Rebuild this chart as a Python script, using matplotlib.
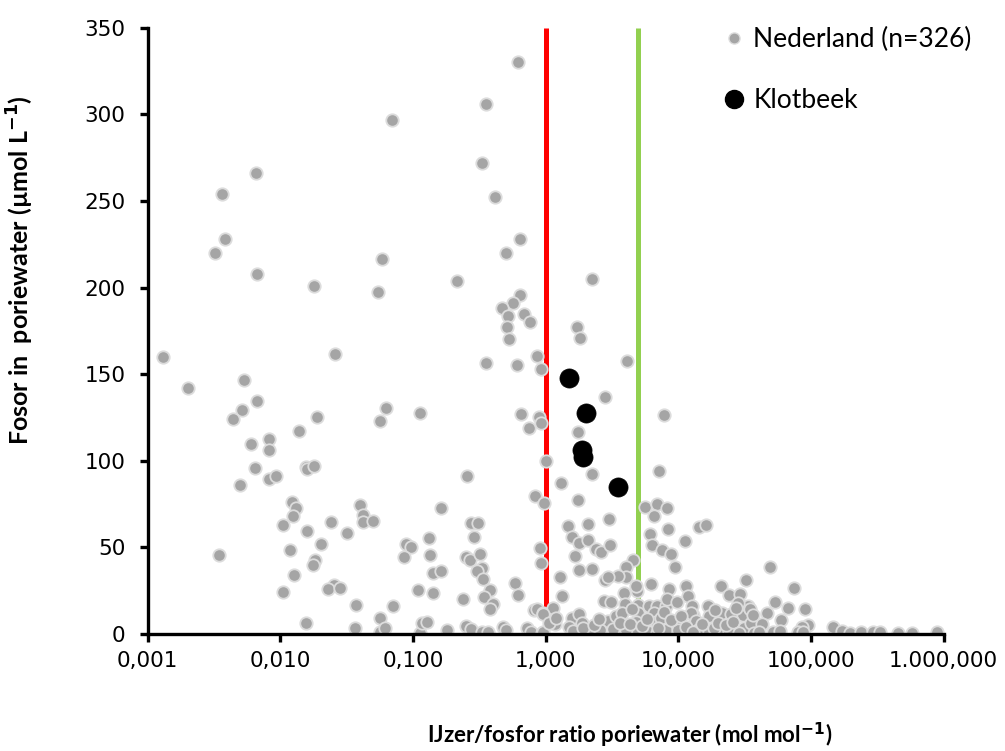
import numpy as np
import matplotlib.pyplot as plt
from matplotlib.lines import Line2D
from matplotlib.ticker import FixedLocator, FuncFormatter

# Nederland (n=326): Fe/P ratio (mol/mol) and P in porewater (umol/L)
ned_x = [0.0066, 0.0036, 0.00385, 0.0032, 0.0067, 0.0178,
         0.614, 0.356, 0.0698, 0.329, 0.412, 0.64, 0.499, 0.0584, 0.213, 0.0543, 0.635, 0.57,
         0.468, 0.519, 0.686, 0.766, 0.513,
         2.24, 1.73,
         0.00131, 0.0020, 0.0256, 0.0053, 0.0067, 0.0051, 0.00439, 0.0189, 0.0139, 0.0082,
         0.0060, 0.00826, 0.00643, 0.0155, 0.016, 0.0179, 0.00826, 0.00927, 0.00495, 0.01225,
         0.0132, 0.01245, 0.0105, 0.024, 0.0315, 0.016, 0.0201, 0.0119, 0.00346, 0.0182,
         0.0177, 0.0126, 0.0254, 0.0229, 0.0282, 0.0105, 0.0157,
         0.533, 0.356, 0.612, 0.857, 0.92, 0.0621, 0.0562, 0.112, 0.653, 0.883, 0.914, 0.75,
         1.0, 0.255, 0.828, 0.964, 0.0395, 0.0419, 0.0418, 0.0496, 0.163, 0.273, 0.309, 0.287,
         0.0885, 0.097, 0.086, 0.133, 0.134, 0.25, 0.27, 0.321, 0.904, 0.925, 0.142, 0.163,
         0.33, 0.305, 0.337, 0.589, 0.617, 0.109, 0.141, 0.379, 0.345, 0.399, 0.381, 0.24,
         0.0372, 0.0705, 0.0562, 0.815, 0.863, 0.946, 0.0368, 0.0564, 0.0618, 0.1135, 0.117,
         0.127, 0.18, 0.25, 0.275, 0.332, 0.368, 0.48, 0.504, 0.72, 0.77, 0.93,
         1.80, 4.07, 2.78, 7.8, 1.75, 2.24, 1.31, 1.75, 7.2, 5.6, 6.9, 8.2, 6.5, 8.4, 14.2,
         16.2, 11.3, 1.47, 2.1, 3.0, 1.57, 1.78, 2.08, 2.41, 2.59, 3.03, 6.07, 6.3, 7.5, 8.8,
         1.65, 1.77, 2.22, 9.5, 4.56, 4.06, 4.04, 3.52, 2.78, 2.96, 1.28, 6.2, 8.5, 11.4, 11.9,
         21, 24, 29, 32.4, 1.32, 3.9, 4.87, 4.83, 2.73, 3.13, 3.93, 4.95, 6.04, 6.86, 8.07,
         8.26, 9.7, 12.6, 16.6, 12.8, 1.13, 0.96, 1.57, 1.77, 1.87, 2.68, 2.96, 3.38, 3.75,
         4.98, 4.83, 6.5, 6.8, 7.4, 9.5, 12.4, 13.6, 17.1, 21.4, 24.9, 30.5, 33.2,
         0.95, 1.17, 1.5, 1.85, 2.13, 2.58, 3.54, 4.05, 4.98, 6.04, 6.86, 8.07, 9.9, 14, 16.9,
         21, 24, 29.3,
         1.05, 1.2, 1.6, 1.9, 2.3, 2.5, 3.2, 3.6, 4.3, 4.5, 5.3, 5.8, 7.0, 7.8, 8.8, 10.5,
         11.5, 13.0, 15.0, 18.5, 20.0, 23.0, 26.0, 28.0, 31.0, 35.0, 27.0, 19.0,
         49, 74.8, 34.8, 36.3, 53.7, 66.8, 90.8, 46.8, 59.3, 42.5, 94.6, 85.2, 28.5, 37.3,
         40.5, 51.9, 58, 80, 87.3, 147, 170, 197, 238, 292, 331, 455, 573, 885]
ned_y = [266, 254, 228, 220, 208, 201,
         330, 306, 297, 272, 252, 228, 220, 216.5, 204, 197.5, 195.7, 191.3,
         188.2, 183.8, 184.7, 180.1, 177.2,
         205.2, 177.2,
         160, 142, 161.6, 146.7, 134.3, 129.4, 123.9, 125, 117.3, 112.7,
         109.5, 106.4, 96, 96.4, 95.2, 97.1, 89.6, 91.3, 86.2, 76,
         72.9, 68.1, 62.9, 64.8, 58.5, 59.6, 52.1, 48.5, 45.8, 42.7,
         39.8, 34.2, 28.1, 25.8, 26.4, 24.1, 6.2,
         170.2, 156.6, 155.2, 160.4, 152.9, 130.2, 122.7, 127.3, 127.1, 125.4, 121.6, 118.7,
         99.8, 91.3, 79.8, 75.4, 74.4, 68.8, 64.8, 65.2, 72.9, 63.9, 63.9, 56.2,
         51.9, 50, 44.6, 55.2, 45.4, 44.4, 42.7, 46.2, 49.6, 40.8, 35, 36.5,
         37.9, 36.4, 31.7, 29.4, 22.3, 25.4, 23.8, 25.2, 21.2, 17.1, 14.3, 20,
         16.6, 16.2, 9.1, 14, 14.6, 11.9, 3.6, 1.3, 3.1, 0.4, 6.2,
         6.9, 2.3, 4.6, 2.9, 1.0, 1.0, 3.9, 2.3, 3.3, 1.3, 0.4,
         171, 157.7, 136.9, 126.4, 116.5, 92.3, 87.1, 77.5, 93.8, 73.5, 74.9, 72.5, 68, 60.8, 61.7,
         62.9, 53.9, 62.5, 63.7, 66.5, 55.8, 52.7, 54.2, 49.2, 47.1, 51.5, 57.5, 51.4, 48.5, 46.3,
         44.8, 36.8, 37.5, 38.5, 42.7, 38.8, 32.7, 33.5, 31.2, 33.1, 32.7, 28.8, 26.1, 27.5, 22.1,
         27.9, 22.3, 23.1, 31.2, 22.1, 23.5, 25, 27.9, 18.7, 18.5, 17.3, 16.9, 15.8, 16.2, 16.2,
         20.4, 18.6, 16.2, 16.2, 11, 14.8, 11.5, 9.4, 11.4, 6.2, 6.5, 7.5, 10.4, 12,
         12, 7.1, 12, 6.8, 9.1, 6.2, 12, 7.5, 10.4, 12, 11.5, 11, 15.8,
         1.3, 5.6, 4.2, 1.0, 2.3, 2.3, 1.0, 2.3, 1.0, 1.3, 0.4, 2.3, 2.3, 2.3, 1.3,
         1.3, 1.0, 1.0,
         6.5, 9.0, 1.5, 3.5, 5.0, 8.5, 3.0, 6.0, 5.5, 14.5, 4.5, 8.5, 3.5, 12.5, 8.0, 10.5,
         4.0, 1.2, 5.5, 3.5, 6.5, 5.0, 7.0, 17.6, 3.5, 6.0, 15.0, 14.0,
         38.7, 26.6, 14.4, 11, 18.5, 14.8, 14.6, 12, 8.1, 5.6, 5.2, 4.2, 0.4, 0.4,
         1.3, 1.3, 1.9, 1.3, 1.3, 3.7, 1.9, 0.4, 1.3, 1.0, 1.0, 0.4, 0.4, 1.0]

# Klotbeek samples
klot_x = [1.50, 2.0, 1.88, 1.91, 3.52]
klot_y = [147.7, 127.7, 106, 102, 84.8]

# threshold ratios
red_ratio = 1
green_ratio = 5

xticks = [0.001, 0.01, 0.1, 1, 10, 100, 1000]
yticks = [0, 50, 100, 150, 200, 250, 300, 350]


def nl_fmt(v, pos):
    s = '{:,.3f}'.format(v)
    return s.replace(',', '#').replace('.', ',').replace('#', '.')


fig = plt.figure(figsize=(10.05, 7.51), dpi=100)
ax = fig.add_axes([0.147, 0.156, 0.792, 0.807])

ax.plot([red_ratio, red_ratio], [0, 350], color='#FF0000', lw=3.6, zorder=1, solid_capstyle='butt')
ax.plot([green_ratio, green_ratio], [0, 350], color='#92D050', lw=3.6, zorder=1, solid_capstyle='butt')

ax.scatter(ned_x, ned_y, s=80, c='#A5A5A5', edgecolors='#DCDCDC', linewidths=1.3, zorder=2)
ax.scatter(klot_x, klot_y, s=190, c='black', edgecolors='black', linewidths=0.5, zorder=3)

ax.set_xscale('log')
ax.set_xlim(0.001, 1000)
ax.set_ylim(0, 350)
ax.xaxis.set_major_locator(FixedLocator(xticks))
ax.xaxis.set_major_formatter(FuncFormatter(nl_fmt))
ax.xaxis.set_minor_locator(FixedLocator([]))
ax.set_yticks(yticks)

for side in ['top', 'right']:
    ax.spines[side].set_visible(False)
for side in ['left', 'bottom']:
    ax.spines[side].set_linewidth(2.4)
ax.tick_params(axis='both', which='major', length=6, width=2.4, labelsize=15.5, direction='out')
ax.tick_params(axis='x', pad=6)
ax.tick_params(axis='y', pad=10)

ax.set_xlabel('IJzer/fosfor ratio poriewater (mol mol$^{\\mathbf{-1}}$)', family='Lato',
              fontweight='bold', fontsize=16)
ax.xaxis.set_label_coords(0.606, -0.143)
ax.set_ylabel('Fosor in  poriewater (µmol L$^{\\mathbf{-1}}$)', family='Lato',
              fontweight='bold', fontsize=18)
ax.yaxis.set_label_coords(-0.14, 0.60)

handles = [Line2D([], [], ls='none', marker='o', ms=8, mfc='#A5A5A5', mec='#DCDCDC', mew=1.0),
           Line2D([], [], ls='none', marker='o', ms=13, mfc='black', mec='black')]
leg = ax.legend(handles, ['Nederland (n=326)', 'Klotbeek'], loc='upper right',
                bbox_to_anchor=(1.065, 1.04), frameon=False, handlelength=0.8,
                handletextpad=0.35, labelspacing=1.35, prop={'family': 'Lato', 'size': 19})

fig.savefig('out.png', dpi=100)
